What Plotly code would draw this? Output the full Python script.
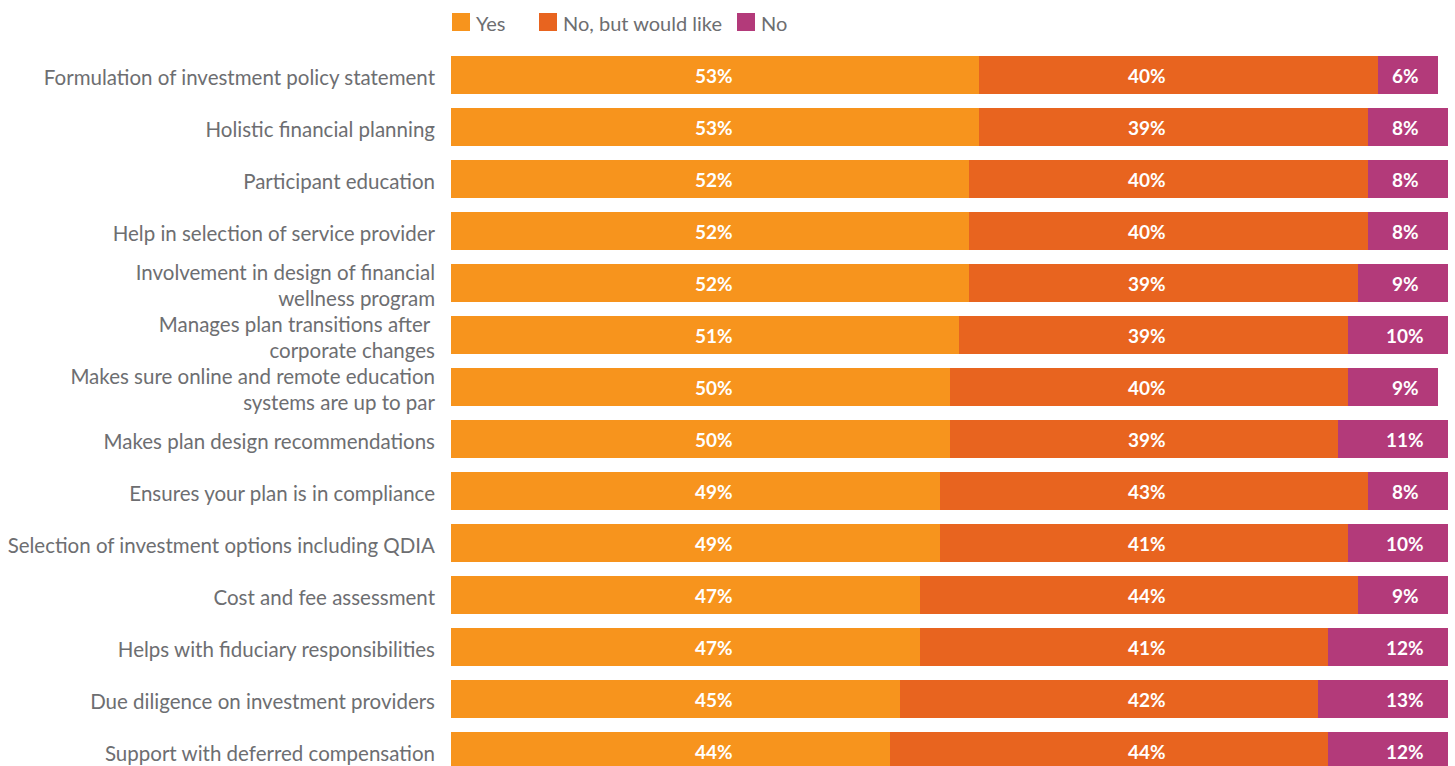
import plotly.graph_objects as go

categories = [
    "Formulation of investment policy statement",
    "Holistic financial planning",
    "Participant education",
    "Help in selection of service provider",
    "Involvement in design of financial<br>wellness program",
    "Manages plan transitions after <br>corporate changes",
    "Makes sure online and remote education<br>systems are up to par",
    "Makes plan design recommendations",
    "Ensures your plan is in compliance",
    "Selection of investment options including QDIA",
    "Cost and fee assessment",
    "Helps with fiduciary responsibilities",
    "Due diligence on investment providers",
    "Support with deferred compensation",
]
yes = [53, 53, 52, 52, 52, 51, 50, 50, 49, 49, 47, 47, 45, 44]
no_but = [40, 39, 40, 40, 39, 39, 40, 39, 43, 41, 44, 41, 42, 44]
no = [6, 8, 8, 8, 9, 10, 9, 11, 8, 10, 9, 12, 13, 12]

series_names = ["Yes", "No, but would like", "No"]
series_values = [yes, no_but, no]
colors = ["#F7941D", "#E8641F", "#B33A7A"]
label_x = [26.4, 69.8, 95.7]  # fixed label columns used in the original

W, H = 1455, 766
ML, MR, MT, MB = 451, 7, 50, 0
PW, PH = W - ML - MR, H - MT - MB

def px_x(p):
    return (p - ML) / PW

def px_y(p):
    return (H - MB - p) / PH

fig = go.Figure()
for name, vals, col in zip(series_names, series_values, colors):
    fig.add_trace(go.Bar(
        y=categories, x=vals, name=name, orientation="h",
        marker=dict(color=col, line=dict(width=0)),
        width=0.73, hoverinfo="skip", showlegend=False,
    ))

annotations = []
for vals, lx in zip(series_values, label_x):
    for cat, v in zip(categories, vals):
        annotations.append(dict(
            x=lx, y=cat, xref="x", yref="y", text=f"<b>{v}%</b>",
            showarrow=False, xanchor="center", yanchor="middle",
            font=dict(family="Lato", size=19, color="white"),
        ))

# manual legend (larger square swatches as in the original)
legend_square_x = [452, 539, 737]
shapes = []
for name, col, sx in zip(series_names, colors, legend_square_x):
    shapes.append(dict(
        type="rect", xref="paper", yref="paper",
        x0=px_x(sx), x1=px_x(sx + 18), y0=px_y(31), y1=px_y(13),
        fillcolor=col, line=dict(width=0),
    ))
    annotations.append(dict(
        x=px_x(sx + 22), y=px_y(23), xref="paper", yref="paper",
        text=name, showarrow=False, xanchor="left", yanchor="middle",
        font=dict(family="Lato", size=20, color="#6D6E71"),
    ))

fig.update_layout(
    width=W, height=H,
    margin=dict(l=ML, r=MR, t=MT, b=MB),
    barmode="stack",
    bargap=0,
    plot_bgcolor="white", paper_bgcolor="white",
    font=dict(family="Lato", size=20.5, color="#6D6E71"),
    showlegend=False,
    xaxis=dict(range=[0, 100], visible=False, fixedrange=True),
    yaxis=dict(
        categoryorder="array", categoryarray=categories,
        range=[13.288, -0.4808], showgrid=False, zeroline=False,
        showline=False, ticks="", ticklabelstandoff=15, ticklabelshift=-3,
        tickfont=dict(family="Lato", size=20.5, color="#6D6E71"),
    ),
    annotations=annotations,
    shapes=shapes,
)

fig.write_html("out.html")
